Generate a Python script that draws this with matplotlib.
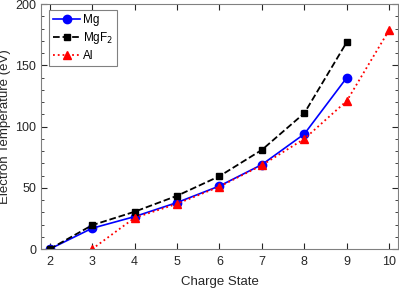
import matplotlib
matplotlib.use('Agg')
import matplotlib.pyplot as plt
from matplotlib.ticker import MultipleLocator

plt.rcParams['font.family'] = ['Liberation Sans', 'DejaVu Sans']

charge_mg = [2, 3, 4, 5, 6, 7, 8, 9]
temp_mg = [0, 17, 26.5, 38, 51.5, 69, 94, 140]
charge_mgf2 = [2, 3, 4, 5, 6, 7, 8, 9]
temp_mgf2 = [0, 19.5, 30.5, 43.5, 59.5, 81, 111, 169]
charge_al = [3, 4, 5, 6, 7, 8, 9, 10]
temp_al = [0, 25.5, 37, 51, 68.5, 90, 121, 179]

fig = plt.figure(figsize=(3.99, 2.88), dpi=100)
ax = fig.add_axes([0.103, 0.135, 0.894, 0.851])

ax.plot(charge_mg, temp_mg, '-o', color='blue', lw=1.2, ms=6, label='Mg')
ax.plot(charge_mgf2, temp_mgf2, '--s', color='black', lw=1.3, ms=5, label='MgF$_2$')
ax.plot(charge_al, temp_al, ':^', color='red', lw=1.3, ms=6, label='Al')

ax.set_xlim(1.8, 10.2)
ax.set_ylim(0, 200)
ax.set_xticks(range(2, 11))
ax.yaxis.set_major_locator(MultipleLocator(50))
ax.yaxis.set_minor_locator(MultipleLocator(10))
ax.tick_params(which='both', direction='in', top=True, right=True, labelsize=9, colors='#262626')
ax.tick_params(axis='x', pad=5)
ax.tick_params(which='major', length=4)
ax.tick_params(which='minor', length=2.5)
for s in ax.spines.values():
    s.set_color('#808080')
    s.set_linewidth(0.8)

ax.set_xlabel('Charge State', fontsize=9.5, color='#262626', labelpad=6)
ax.set_ylabel('Electron Temperature (eV)', fontsize=9.5, color='#262626', labelpad=3)

leg = ax.legend(loc='upper left', bbox_to_anchor=(0.022, 0.976), borderaxespad=0,
                fontsize=8.5, fancybox=False, framealpha=1,
                edgecolor='#808080', handlelength=2.3, borderpad=0.35,
                labelspacing=0.35, handletextpad=0.2)
leg.get_frame().set_linewidth(0.8)

fig.savefig('out.png', dpi=100)
plt.close(fig)
